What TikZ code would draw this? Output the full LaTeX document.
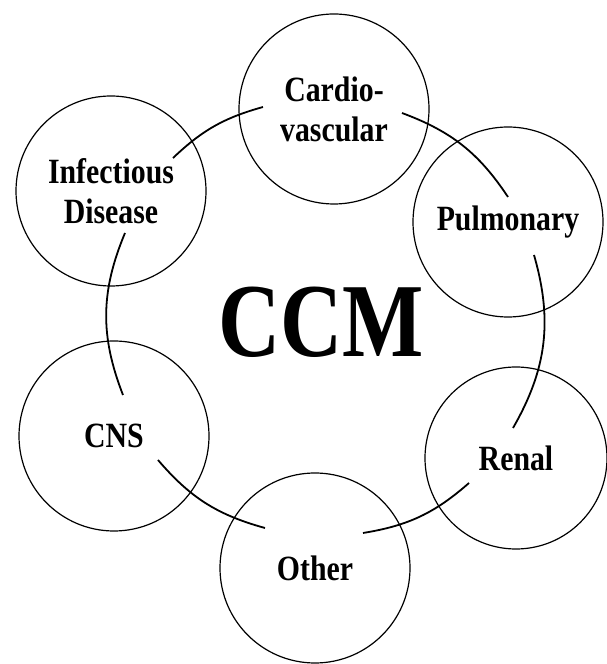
\documentclass[tikz,border=0pt]{standalone}
\usepackage{fontspec}
\usepackage{tikz}
\newfontfamily\lblfont{Liberation Serif}[FakeStretch=0.84]
\newfontfamily\ccmfont{Liberation Serif}[FakeStretch=0.82]

\tikzset{
  area/.style={draw, circle, line width=1.2pt, minimum size=190pt, inner sep=0pt,
    align=center, font=\lblfont\bfseries\fontsize{35.5}{40}\selectfont},
  link/.style={line width=1.8pt}
}

\begin{document}
\begin{tikzpicture}[x=1pt, y=1pt]
    \fill[white] (0,0) rectangle (607,664);
    \useasboundingbox (0,0) rectangle (607,664);

    \node[font=\ccmfont\bfseries\fontsize{105}{105}\selectfont] (ccm) at (321,342) {CCM};

    \node[area] (card) at (334,555) {Cardio-\\vascular};
    \node[area] (pulm) at (508,442) {Pulmonary};
    \node[area, minimum size=182pt] (renl) at (516,206) {Renal};
    \node[area] (othr) at (315,96) {Other};
    \node[area] (cns)  at (114,228) {CNS};
    \node[area] (infd) at (111,473) {Infectious\\Disease};

    % where the links stop, inside each circle
    \coordinate (infd-e) at ([shift={(62,33)}]infd.center);
    \coordinate (card-w) at ([shift={(-71,2)}]card.center);
    \coordinate (card-e) at ([shift={(68,-4)}]card.center);
    \coordinate (pulm-n) at ([shift={(0,25)}]pulm.center);
    \coordinate (pulm-s) at ([shift={(26,-33)}]pulm.center);
    \coordinate (renl-n) at ([shift={(-3,30)}]renl.center);
    \coordinate (renl-w) at ([shift={(-47,-25)}]renl.center);
    \coordinate (othr-e) at ([shift={(48,35)}]othr.center);
    \coordinate (othr-w) at ([shift={(-50,40)}]othr.center);
    \coordinate (cns-e)  at ([shift={(44,-24)}]cns.center);
    \coordinate (cns-n)  at ([shift={(9,41)}]cns.center);
    \coordinate (infd-s) at ([shift={(14,-42)}]infd.center);

    \draw[link] (infd-e) to[bend left=14] (card-w);
    \draw[link] (card-e) to[bend left=18] (pulm-n);
    \draw[link] (pulm-s) to[bend left=23] (renl-n);
    \draw[link] (renl-w) to[bend left=16] (othr-e);
    \draw[link] (othr-w) to[bend left=17] (cns-e);
    \draw[link] (cns-n)  to[bend left=22] (infd-s);
\end{tikzpicture}
\end{document}
